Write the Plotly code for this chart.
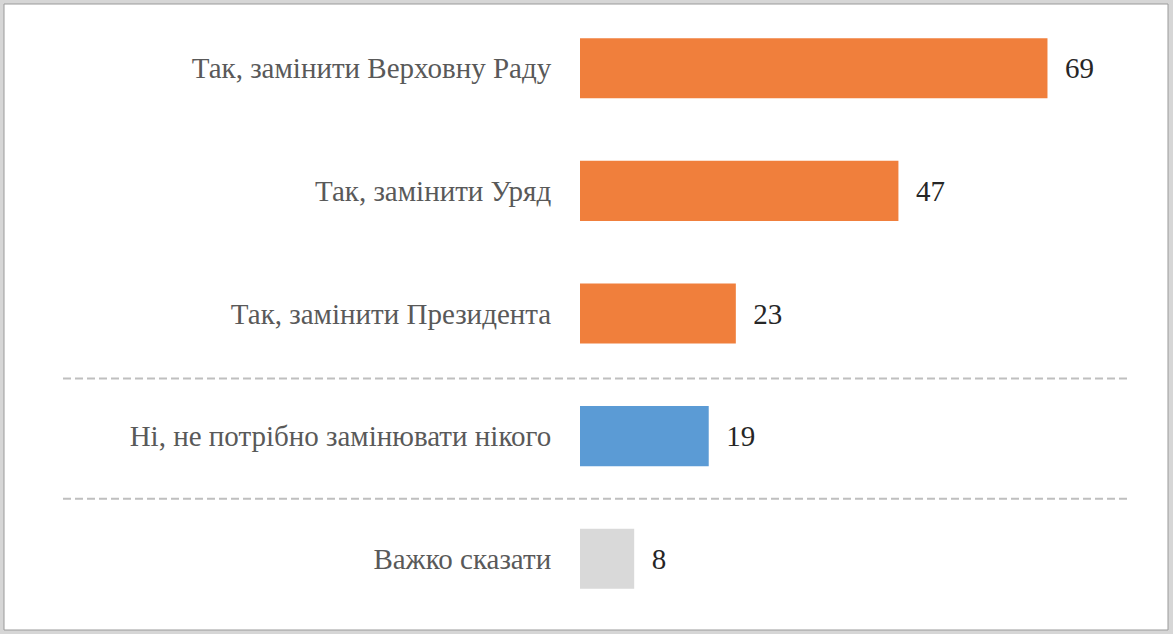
import plotly.graph_objects as go

categories = [
    "Так, замінити Верховну Раду",
    "Так, замінити Уряд",
    "Так, замінити Президента",
    "Ні, не потрібно замінювати нікого",
    "Важко сказати",
]
values = [69, 47, 23, 19, 8]
colors = ["#F07F3C", "#F07F3C", "#F07F3C", "#5B9BD5", "#D9D9D9"]

W, H = 1173, 634
L, R, T, B = 580, 51, 7, 14
pw = W - L - R

fig = go.Figure()
fig.add_trace(go.Bar(
    x=values, y=categories, orientation="h",
    marker=dict(color=colors, line=dict(width=0)),
    width=0.49,
    text=["\u2002" + str(v) for v in values],
    textposition="outside",
    textfont=dict(family="Liberation Serif", size=29, color="#262626"),
    cliponaxis=False,
    hoverinfo="skip",
))

def px2paper(px):
    return (px - L) / pw

shapes = []
shapes.append(dict(type="rect", xref="paper", yref="paper",
                   x0=px2paper(4), x1=px2paper(W - 5),
                   y0=1 + (T - 4) / (H - T - B), y1=-(B - 4) / (H - T - B),
                   fillcolor="white", line=dict(color="#9a9a9a", width=1), layer="below"))
for yv in [2.53, 3.51]:
    shapes.append(dict(type="line", xref="paper", yref="y",
                       x0=px2paper(63), x1=px2paper(1128), y0=yv, y1=yv,
                       line=dict(color="#BFBFBF", width=2, dash="8px,4px")))

fig.update_layout(
    width=W, height=H,
    margin=dict(l=L, r=R, t=T, b=B),
    paper_bgcolor="#D6D6D6",
    plot_bgcolor="rgba(0,0,0,0)",
    showlegend=False,
    bargap=0.51,
    shapes=shapes,
    xaxis=dict(range=[0, 80], visible=False, showgrid=False, zeroline=False),
    yaxis=dict(autorange="reversed", showgrid=False, zeroline=False, showline=False,
               ticks="outside", ticklen=22, tickcolor="rgba(0,0,0,0)",
               tickfont=dict(family="Liberation Serif", size=29, color="#595959")),
)

fig.write_html("out.html")
